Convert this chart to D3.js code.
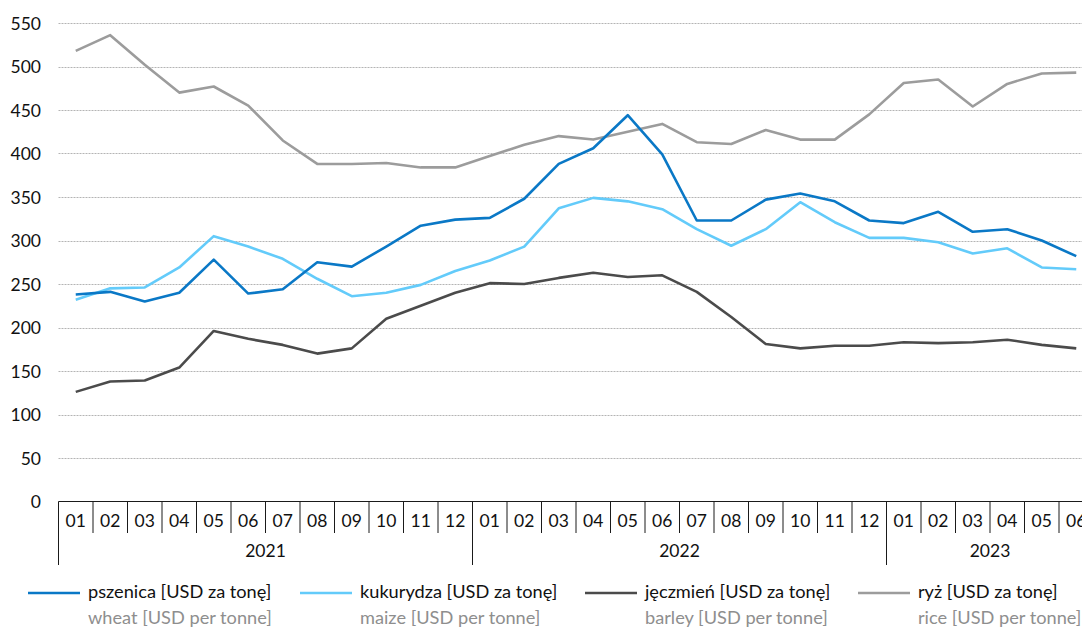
<!DOCTYPE html>
<html>
<head>
<meta charset="utf-8">
<script src="https://cdn.jsdelivr.net/npm/d3@7"></script>
<style>
  html, body { margin: 0; padding: 0; background: #fff; overflow: hidden; }
  svg { display: block; font-family: Lato, "Noto Sans", sans-serif; }
</style>
</head>
<body>
<svg id="chart" width="1082" height="630"></svg>
<script>
// Monthly grain prices, Jan 2021 – Jun 2023 (USD per tonne)
const months = ["01","02","03","04","05","06","07","08","09","10","11","12",
                "01","02","03","04","05","06","07","08","09","10","11","12",
                "01","02","03","04","05","06"];
const years = ["2021", "2022", "2023"];
const yearLengths = [12, 12, 6];

const wheat  = [238, 241, 230, 240, 278, 239, 244, 275, 270, 293, 317, 324,
                326, 348, 388, 406, 444, 399, 323, 323, 347, 354, 345, 323,
                320, 333, 310, 313, 300, 282];
const maize  = [232, 245, 246, 269, 305, 293, 279, 256, 236, 240, 249, 265,
                277, 293, 337, 349, 345, 336, 313, 294, 313, 344, 321, 303,
                303, 298, 285, 291, 269, 267];
const barley = [126, 138, 139, 154, 196, 187, 180, 170, 176, 210, 225, 240,
                251, 250, 257, 263, 258, 260, 241, 212, 181, 176, 179, 179,
                183, 182, 183, 186, 180, 176];
const rice   = [518, 536, 502, 470, 477, 455, 415, 388, 388, 389, 384, 384,
                397, 410, 420, 416, 425, 434, 413, 411, 427, 416, 416, 445,
                481, 485, 454, 480, 492, 493];

const yTicks = [0, 50, 100, 150, 200, 250, 300, 350, 400, 450, 500, 550];

const seriesNames = [
  { pl: "pszenica [USD za tonę]",  en: "wheat [USD per tonne]",  values: wheat,  color: "#0a78c6" },
  { pl: "kukurydza [USD za tonę]", en: "maize [USD per tonne]",  values: maize,  color: "#63cbfa" },
  { pl: "jęczmień [USD za tonę]",  en: "barley [USD per tonne]", values: barley, color: "#4b4b4b" },
  { pl: "ryż [USD za tonę]",       en: "rice [USD per tonne]",   values: rice,   color: "#9c9c9c" }
];

const svg = d3.select("#chart");
const left = 58.5, bandW = 34.5;
const axisY = 501.5;

const x = d3.scaleBand()
  .domain(d3.range(months.length))
  .range([left, left + bandW * months.length])
  .paddingInner(0).paddingOuter(0);

const y = d3.scaleLinear().domain([0, 550]).range([axisY, 23]);

// horizontal grid
svg.append("g")
  .selectAll("line")
  .data(yTicks.filter(d => d > 0))
  .join("line")
  .attr("x1", left).attr("x2", 1082)
  .attr("y1", d => Math.round(y(d)) + 0.5).attr("y2", d => Math.round(y(d)) + 0.5)
  .attr("stroke", "#b4b4b4")
  .attr("stroke-width", 1)
  .attr("stroke-dasharray", "2,1");

// y axis labels
const yAxis = d3.axisLeft(y).tickValues(yTicks).tickSize(0).tickPadding(0);
const yG = svg.append("g").attr("transform", `translate(41,0)`).call(yAxis);
yG.select(".domain").remove();
yG.selectAll("text")
  .attr("font-size", 17.5)
  .attr("fill", "#111")
  .attr("font-family", "Lato, 'Noto Sans', sans-serif")
  .attr("dy", "0.35em");

// x axis baseline
svg.append("line")
  .attr("x1", left).attr("x2", 1082)
  .attr("y1", axisY).attr("y2", axisY)
  .attr("stroke", "#1a1a1a").attr("stroke-width", 1.2);

// month separators
const boundaries = d3.range(months.length + 1);
const yearStarts = [];
yearLengths.reduce((acc, n) => { yearStarts.push(acc); return acc + n; }, 0);
svg.append("g")
  .selectAll("line")
  .data(boundaries)
  .join("line")
  .attr("x1", i => left + i * bandW).attr("x2", i => left + i * bandW)
  .attr("y1", axisY)
  .attr("y2", i => yearStarts.includes(i) ? 565 : 533)
  .attr("stroke", "#1a1a1a").attr("stroke-width", 1);

// month labels
const xAxis = d3.axisBottom(x).tickFormat(i => months[i]).tickSize(0).tickPadding(0);
const xG = svg.append("g").attr("transform", `translate(0,${axisY})`).call(xAxis);
xG.select(".domain").remove();
xG.selectAll("text")
  .attr("y", 19)
  .attr("dy", "0.35em")
  .attr("font-size", 17.5)
  .attr("fill", "#111")
  .attr("font-family", "Lato, 'Noto Sans', sans-serif");

// year labels
svg.append("g")
  .selectAll("text")
  .data(years)
  .join("text")
  .attr("x", (d, i) => left + (yearStarts[i] + yearLengths[i] / 2) * bandW)
  .attr("y", 551)
  .attr("dy", "0.35em")
  .attr("text-anchor", "middle")
  .attr("font-size", 17.5)
  .attr("fill", "#111")
  .text(d => d);

// series lines
const line = d3.line()
  .x((d, i) => x(i) + x.bandwidth() / 2)
  .y(d => y(d));

// draw order: rice, barley, maize, wheat on top
[3, 2, 1, 0].forEach(k => {
  const s = seriesNames[k];
  svg.append("path")
    .datum(s.values)
    .attr("d", line)
    .attr("fill", "none")
    .attr("stroke", s.color)
    .attr("stroke-width", 2.6)
    .attr("stroke-linejoin", "round");
});

// legend
const legendX = [28, 300, 585, 858];
const legend = svg.append("g");
seriesNames.forEach((s, i) => {
  const g = legend.append("g").attr("transform", `translate(${legendX[i]},0)`);
  g.append("line")
    .attr("x1", 0).attr("x2", 52)
    .attr("y1", 593).attr("y2", 593)
    .attr("stroke", s.color).attr("stroke-width", 2.6);
  g.append("text")
    .attr("x", 60).attr("y", 598)
    .attr("font-size", 18.2)
    .attr("fill", "#111")
    .text(s.pl);
  g.append("text")
    .attr("x", 60).attr("y", 624)
    .attr("font-size", 18.2)
    .attr("fill", "#8e8e8e")
    .text(s.en);
});
</script>
</body>
</html>
